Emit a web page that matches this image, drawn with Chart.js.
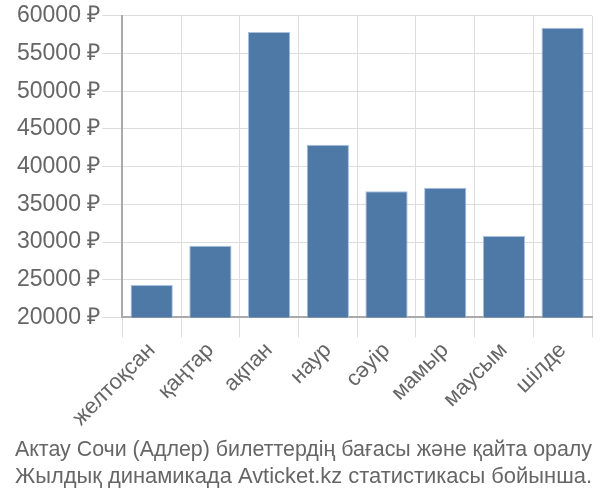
<!DOCTYPE html>
<html><head><meta charset="utf-8">
<script src="https://cdn.jsdelivr.net/npm/chart.js@4/dist/chart.umd.min.js"></script>
<style>html,body{margin:0;padding:0;background:#fff}#w{width:600px;height:500px}</style>
</head><body><div id="w"><canvas id="c" width="600" height="500"></canvas></div>
<script>
const categories = ["желтоқсан","қаңтар","ақпан","наур","сәуір","мамыр","маусым","шілде"];
const prices = [24300, 29500, 57850, 42900, 36750, 37200, 30800, 58400];
const titleLines = ["Актау Сочи (Адлер) билеттердің бағасы және қайта оралу","Жылдық динамикада Avticket.kz статистикасы бойынша."];
const FONT = "'Liberation Sans', Arial, sans-serif";
new Chart(document.getElementById('c'), {
  type: 'bar',
  data: { labels: categories, datasets: [{ data: prices, backgroundColor: '#4e79a7', borderColor: '#a9c1dc', borderWidth: 1 }] },
  options: {
    responsive: false, animation: false,
    layout: { padding: { left: 15, right: 8, top: 1, bottom: 0 } },
    plugins: {
      legend: { display: false }, tooltip: { enabled: false },
      title: { display: true, position: 'bottom', text: titleLines, color: '#666', font: { family: FONT, size: 22, weight: 'normal' }, padding: { top: 6, bottom: 10 }, lineHeight: 1.25 }
    },
    scales: {
      x: { grid: { color: '#ddd', lineWidth: 1, offset: true, tickLength: 20 }, border: { color: '#aaa', width: 2 },
           ticks: { color: '#666', font: { family: FONT, size: 22 }, minRotation: 45, maxRotation: 45, padding: 0 } },
      y: { min: 20000, max: 60000, grid: { color: '#ddd', lineWidth: 1, tickLength: 20 }, border: { color: '#aaa', width: 2 },
           ticks: { stepSize: 5000, color: '#666', font: { family: FONT, size: 23 }, padding: 2, callback: v => v + ' ₽' } }
    }
  }
});
</script></body></html>
